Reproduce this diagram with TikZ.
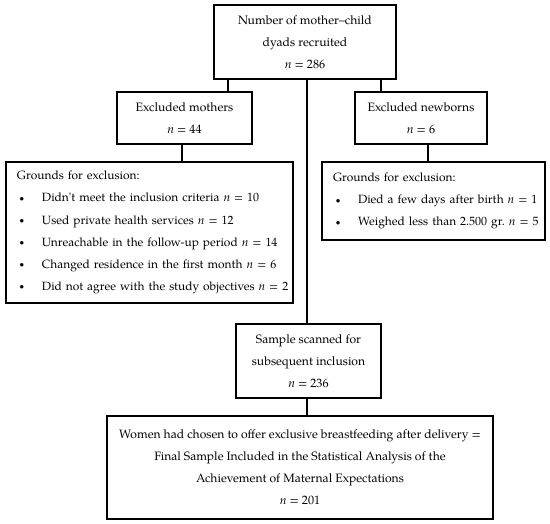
\documentclass[tikz,border=0pt]{standalone}
\usepackage{fontspec}
\setmainfont{TeX Gyre Pagella}
\frenchspacing
\newcommand\figfont{\fontsize{12.2}{22.2}\selectfont}
\newcommand\listfont{\fontsize{12.0}{22.2}\selectfont}
\newcommand\bul{\hspace*{2.5bp}\makebox[22.5bp][l]{\raisebox{0.5bp}{\scalebox{0.75}{\textbullet}}}}
\newcommand\nn{\textit{n}}
\begin{document}
\begin{tikzpicture}[x=1bp,y=-1bp,
  box/.style={draw, line width=1.4bp, inner sep=0pt, align=center, font=\figfont},
  listbox/.style={draw, line width=1.4bp, inner ysep=0pt, inner xsep=11bp, align=left, font=\listfont},
  link/.style={line width=1.4bp}]
\useasboundingbox (0,0) rectangle (550,524);
\node[box, minimum width=182bp, minimum height=74bp] (top) at (305,42)
  {Number of mother–child\\dyads recruited\\\nn{} = 286};
\node[box, minimum width=135bp, minimum height=52bp] (moth) at (184.5,118)
  {Excluded mothers\\\nn{} = 44};
\node[box, minimum width=132bp, minimum height=52bp] (newb) at (421,118)
  {Excluded newborns\\\nn{} = 6};
\node[listbox, text width=265bp, minimum height=141bp] (lg) at (149.5,232.5)
  {\mbox{Grounds for exclusion:}\\
   \mbox{\bul Didn\textquotesingle t meet the inclusion criteria \nn{} = 10}\\
   \mbox{\bul Used private health services \nn{} = 12}\\
   \mbox{\bul Unreachable in the follow-up period \nn{} = 14}\\
   \mbox{\bul Changed residence in the first month \nn{} = 6}\\
   \mbox{\bul Did not agree with the study objectives \nn{} = 2}};
\node[listbox, text width=201bp, minimum height=78bp] (rg) at (433.5,201)
  {\mbox{Grounds for exclusion:}\\
   \mbox{\bul Died a few days after birth \nn{} = 1}\\
   \mbox{\bul Weighed less than 2.500 gr. \nn{} = 5}};
\node[box, minimum width=145bp, minimum height=74bp] (samp) at (308.5,361)
  {Sample scanned for\\subsequent inclusion\\\nn{} = 236};
\node[box, minimum width=386bp, minimum height=103bp] (fin) at (300,467.5)
  {Women had chosen to offer exclusive breastfeeding after delivery =\\
   Final Sample Included in the Statistical Analysis of the\\
   Achievement of Maternal Expectations\\\nn{} = 201};
\coordinate (xm) at (228,0);
\coordinate (xn) at (381,0);
\coordinate (xl) at (182,0);
\coordinate (xr) at (428,0);
\coordinate (xc) at (307,0);
\draw[link] (top.south -| xm) -- (moth.north -| xm);
\draw[link] (top.south -| xn) -- (newb.north -| xn);
\draw[link] (moth.south -| xl) -- (lg.north -| xl);
\draw[link] (newb.south -| xr) -- (rg.north -| xr);
\draw[link] (top.south -| xc) -- (samp.north -| xc);
\draw[link] (samp.south -| xc) -- (fin.north -| xc);
\end{tikzpicture}
\end{document}
